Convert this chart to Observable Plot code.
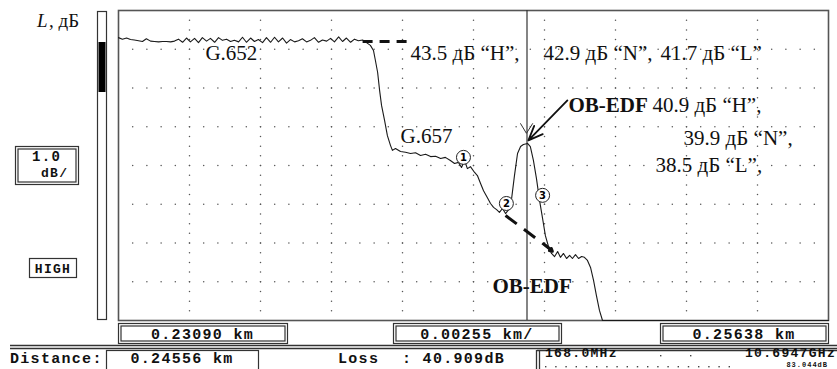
<!DOCTYPE html>
<html><head><meta charset="utf-8">
<script src="https://cdn.jsdelivr.net/npm/d3@7"></script>
<script src="https://cdn.jsdelivr.net/npm/@observablehq/plot@0.6"></script>
<style>body{margin:0;background:#fff} svg{display:block}</style>
</head><body><div id="chart"></div><script>
// ---- Axis set-up ----
const xStartKm = 0.23090, xEndKm = 0.25638, kmPerDiv = 0.00255;
const dbPerDiv = 1.0, yDivs = 8, xDivs = 10;
const cursorKm = 0.24556;
const lossReadout = "40.909dB";
const freqLeft = "168.0MHz", freqRight = "10.6947GHz", levelRight = "83.044dB";

// ---- OTDR trace (distance, km / level, dB) ----
const distanceKm = [
 0.23090,0.23104,0.23119,0.23133,0.23147,0.23162,0.23176,0.23190,0.23205,0.23219,
 0.23234,0.23248,0.23262,0.23277,0.23291,0.23305,0.23320,0.23334,0.23348,0.23363,
 0.23377,0.23391,0.23406,0.23420,0.23435,0.23449,0.23463,0.23478,0.23492,0.23506,
 0.23521,0.23535,0.23549,0.23564,0.23578,0.23592,0.23607,0.23621,0.23636,0.23650,
 0.23664,0.23679,0.23693,0.23707,0.23722,0.23736,0.23750,0.23765,0.23779,0.23793,
 0.23808,0.23822,0.23837,0.23851,0.23865,0.23880,0.23894,0.23908,0.23923,0.23937,
 0.23951,0.23966,
 0.23980,0.23994,0.24005,0.24012,0.24020,0.24027,0.24034,0.24045,0.24055,0.24066,0.24073,0.24084,
 0.24102,0.24120,0.24138,0.24156,0.24174,0.24192,0.24210,0.24228,0.24246,0.24263,
 0.24281,0.24296,0.24310,0.24321,0.24332,0.24342,0.24353,0.24368,0.24378,0.24389,
 0.24400,0.24414,0.24425,0.24436,0.24447,0.24457,0.24468,0.24479,0.24490,0.24500,
 0.24511,0.24522,0.24533,0.24543,0.24558,0.24568,0.24579,0.24590,0.24601,0.24612,
 0.24622,0.24633,0.24644,0.24655,0.24666,0.24676,0.24687,0.24698,0.24709,0.24719,
 0.24730,0.24741,0.24752,0.24762,0.24773,0.24784,0.24795,0.24805,0.24816,0.24827,
 0.25638];
const levelDb = [
 7.30,7.26,7.29,7.25,7.24,7.22,7.20,7.27,7.21,7.20,
 7.19,7.20,7.20,7.19,7.21,7.26,7.18,7.29,7.19,7.28,
 7.17,7.30,7.21,7.28,7.18,7.30,7.23,7.26,7.20,7.23,
 7.19,7.31,7.18,7.29,7.20,7.25,7.17,7.30,7.18,7.31,
 7.19,7.29,7.16,7.25,7.19,7.22,7.27,7.19,7.23,7.30,
 7.18,7.24,7.21,7.28,7.19,7.32,7.20,7.29,7.18,7.26,
 7.22,7.24,
 7.17,7.10,6.97,6.71,6.40,5.94,5.55,5.16,4.77,4.52,4.39,4.44,
 4.36,4.34,4.31,4.33,4.26,4.29,4.23,4.24,4.18,4.21,
 4.13,4.05,4.08,3.95,4.13,3.92,3.97,3.82,3.74,3.54,
 3.35,3.17,3.02,2.92,2.86,2.79,2.89,2.76,2.86,3.10,
 3.74,4.31,4.49,4.54,4.57,4.49,4.13,3.66,3.10,2.63,
 2.19,1.91,1.73,1.65,1.78,1.63,1.73,1.60,1.68,1.60,
 1.70,1.60,1.65,1.63,1.55,1.37,1.03,0.65,0.26,0.00,
 0.00];

// ---- Events (circled markers) ----
const eventKm = [0.24328, 0.24482, 0.24612];
const eventDb = [4.21, 3.02, 3.23];
const eventLabel = ["1", "2", "3"];

// ---- Dashed extrapolations and pointer ----
const g652LineKm = [0.23966, 0.24149];
const g652LineDb = [7.20, 7.20];
const g657DashKm = [0.24479, 0.24640];
const g657DashDb = [2.71, 1.84];
const g657HeadKm = [0.24619, 0.24648];
const g657HeadDb = [1.96, 1.78];
const pointerKm = [0.24701, 0.24561];
const pointerDb = [5.68, 4.65];
const cursorTickKm = [0.24533, 0.24554, 0.24576];
const cursorTickDb = [5.08, 4.83, 5.08];

// ---- Annotations ----
const noteText = ["G.652", "43.5 дБ “H”,", "42.9 дБ “N”,", "41.7 дБ “L”", "40.9 дБ “H”,", "39.9 дБ “N”,", "38.5 дБ “L”,", "G.657"];
const noteKm   = [0.23402, 0.24138, 0.24615, 0.25035, 0.25006, 0.25118, 0.25017, 0.24102];
const noteDb   = [6.71, 6.71, 6.71, 6.71, 5.37, 4.54, 3.82, 4.59];
const boldText = ["OB-EDF", "OB-EDF"];
const boldKm   = [0.24705, 0.24432];
const boldDb   = [5.37, 0.72];

// ---- build tables ----
const trace = distanceKm.map((d, i) => ({km: d, db: levelDb[i]}));
const events = eventKm.map((d, i) => ({km: d, db: eventDb[i], label: eventLabel[i]}));
const notes = noteText.map((t, i) => ({t, km: noteKm[i], db: noteDb[i]}));
const bolds = boldText.map((t, i) => ({t, km: boldKm[i], db: boldDb[i]}));
const seg = (xs, ys) => [{x1: xs[0], y1: ys[0], x2: xs[1], y2: ys[1]}];

const span = xEndKm - xStartKm;
const gridDots = [];
for (let i = 1; i < xDivs; i++) for (let j = 1; j < yDivs * 4; j++)
  gridDots.push({x: xStartKm + i * span / xDivs, y: j * dbPerDiv / 4});
for (let k = 1; k < yDivs; k++) for (let m = 1; m < xDivs * 5; m++)
  gridDots.push({x: xStartKm + m * span / (xDivs * 5), y: k * dbPerDiv});

const serif = "Liberation Serif, Times New Roman, serif";
const svg = Plot.plot({
  width: 837, height: 369,
  marginLeft: 118, marginRight: 9, marginTop: 10, marginBottom: 49,
  x: {domain: [xStartKm, xEndKm], axis: null},
  y: {domain: [0, yDivs * dbPerDiv], axis: null},
  style: {background: "white", overflow: "visible"},
  marks: [
    Plot.dot(gridDots, {x: "x", y: "y", r: 0.75, fill: "#555", stroke: null}),
    Plot.frame({stroke: "#555", strokeWidth: 1.6}),
    Plot.ruleX([cursorKm], {stroke: "#333", strokeWidth: 1.2}),
    Plot.line(trace, {x: "km", y: "db", stroke: "#1a1a1a", strokeWidth: 1.1}),
    Plot.link(seg(g652LineKm, g652LineDb), {x1: "x1", y1: "y1", x2: "x2", y2: "y2", stroke: "#111", strokeWidth: 3, strokeDasharray: "10,7"}),
    Plot.link(seg(g657DashKm, g657DashDb), {x1: "x1", y1: "y1", x2: "x2", y2: "y2", stroke: "#111", strokeWidth: 3, strokeDasharray: "14,9"}),
    Plot.arrow(seg(g657HeadKm, g657HeadDb), {x1: "x1", y1: "y1", x2: "x2", y2: "y2", stroke: "#111", strokeWidth: 2.5, headLength: 7}),
    Plot.arrow(seg(pointerKm, pointerDb), {x1: "x1", y1: "y1", x2: "x2", y2: "y2", stroke: "#111", strokeWidth: 1.8, headLength: 13, headAngle: 45}),
    Plot.line(cursorTickKm.map((d, i) => ({km: d, db: cursorTickDb[i]})), {x: "km", y: "db", stroke: "#333", strokeWidth: 1}),
    Plot.dot(events, {x: "km", y: "db", r: 7, fill: "white", stroke: "#222", strokeWidth: 1}),
    Plot.text(events, {x: "km", y: "db", text: "label", fontSize: 10, fontWeight: "bold", fontFamily: "DejaVu Sans"}),
    Plot.text(notes, {x: "km", y: "db", text: "t", textAnchor: "start", lineAnchor: "bottom", fontFamily: serif, fontSize: 21, fill: "#111"}),
    Plot.text(bolds, {x: "km", y: "db", text: "t", textAnchor: "start", lineAnchor: "bottom", fontFamily: serif, fontSize: 21, fontWeight: "bold", fill: "#111"})
  ]
});
document.getElementById("chart").appendChild(svg);

// ---- instrument screen furniture ----
const g = d3.select(svg).append("g").attr("fill", "none").attr("stroke", "#333").style("text-anchor", "start");
const mono = "Liberation Mono, DejaVu Sans Mono, monospace";
function box(x, y, w, h, dbl) {
  g.append("rect").attr("x", x + 0.5).attr("y", y + 0.5).attr("width", w).attr("height", h).attr("fill", "white").attr("stroke-width", 1.2);
  if (dbl) g.append("rect").attr("x", x + 3).attr("y", y + 3).attr("width", w - 5).attr("height", h - 5).attr("stroke-width", 1.2);
}
function txt(s, x, y, size, anchor) {
  return g.append("text").attr("x", x).attr("y", y).attr("fill", "#111").attr("stroke", "none")
    .attr("font-family", mono).attr("font-weight", "bold").attr("font-size", size)
    .attr("letter-spacing", 1.3).style("text-anchor", anchor || "start").text(s);
}
// y-axis title (italic L, upright unit)
g.append("text").attr("x", 37).attr("y", 27).attr("fill", "#111").attr("stroke", "none")
  .style("text-anchor", "start").attr("font-family", serif).attr("font-size", 19).attr("font-style", "italic").text("L");
g.append("text").attr("x", 49).attr("y", 27).attr("fill", "#111").attr("stroke", "none")
  .style("text-anchor", "start").attr("font-family", serif).attr("font-size", 19).text(", дБ");
// scroll bar
g.append("rect").attr("x", 97.5).attr("y", 11.5).attr("width", 9).attr("height", 308).attr("fill", "white").attr("stroke-width", 1.2);
g.append("rect").attr("x", 98.5).attr("y", 42).attr("width", 7).attr("height", 50).attr("fill", "#000").attr("stroke", "none");
// scale box
box(15, 146, 63, 38, true);
txt("1.0", 32, 161, 14);
txt("dB/", 41, 177, 13);
box(29, 258, 47, 19, false);
txt("HIGH", 53, 273, 13, "middle");
// readouts under the graph
const readouts = [
  {s: xStartKm.toFixed(5) + " km", x: 118, w: 169},
  {s: kmPerDiv.toFixed(5) + " km/", x: 393, w: 168},
  {s: xEndKm.toFixed(5) + " km", x: 660, w: 168}
];
for (const r of readouts) { box(r.x, 323, r.w, 20, true); txt(r.s, r.x + r.w / 2, 339, 15, "middle"); }
// separator double line
g.append("line").attr("x1", 10).attr("x2", 837).attr("y1", 345.5).attr("y2", 345.5).attr("stroke-width", 1.3);
g.append("line").attr("x1", 10).attr("x2", 837).attr("y1", 348.5).attr("y2", 348.5).attr("stroke-width", 1.3);
// status line
txt("Distance:", 10, 363, 15);
box(106, 350, 152, 24, false);
txt(cursorKm.toFixed(5) + " km", 182, 363, 15, "middle");
txt("Loss", 338, 363, 15);
txt(": " + lossReadout, 402, 363, 15);
g.append("line").attr("x1", 536.5).attr("x2", 536.5).attr("y1", 350).attr("y2", 369).attr("stroke-width", 1.3);
g.append("line").attr("x1", 539.5).attr("x2", 539.5).attr("y1", 350).attr("y2", 369).attr("stroke-width", 1.3);
g.append("line").attr("x1", 537).attr("x2", 837).attr("y1", 350.5).attr("y2", 350.5).attr("stroke-width", 1.3);
txt(freqLeft, 545, 357, 13);
txt(freqRight, 836, 357, 13, "end");
for (let xx = 545; xx < 735; xx += 10.2) g.append("rect").attr("x", xx).attr("y", 366).attr("width", 1.4).attr("height", 1.4).attr("fill", "#444").attr("stroke", "none");
txt(levelRight, 828, 366.8, 7, "end").attr("letter-spacing", 1);
g.append("rect").attr("x", 660).attr("y", 355).attr("width", 1.4).attr("height", 1.4).attr("fill", "#444").attr("stroke", "none");
g.append("rect").attr("x", 690).attr("y", 355).attr("width", 1.4).attr("height", 1.4).attr("fill", "#444").attr("stroke", "none");
</script></body></html>
